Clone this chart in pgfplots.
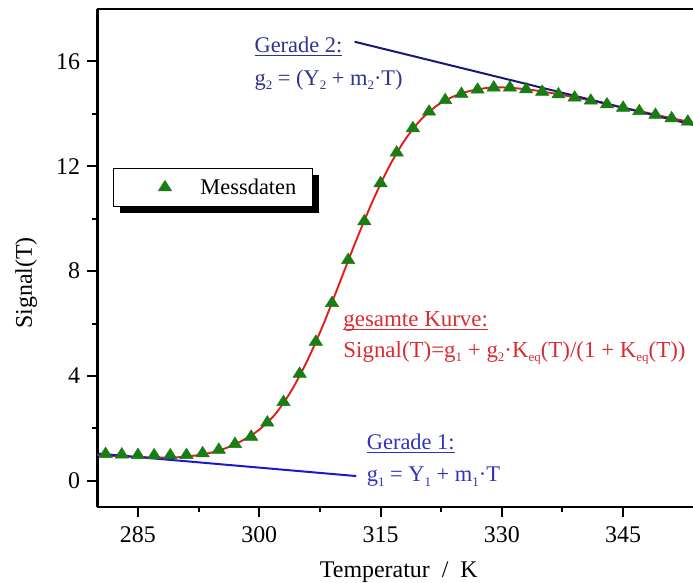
\documentclass[border=0pt]{standalone}
\usepackage{fontspec}
\setmainfont{Liberation Serif}
\usepackage{pgfplots}
\pgfplotsset{compat=1.18}
\usetikzlibrary{shadows}

\definecolor{mygreen}{RGB}{25,125,20}
\definecolor{myred}{RGB}{225,30,30}
\definecolor{txtred}{RGB}{215,45,50}
\definecolor{navyline}{RGB}{25,25,120}
\definecolor{blueline}{RGB}{25,25,210}
\definecolor{navytext}{RGB}{50,50,140}
\definecolor{bluetext}{RGB}{50,50,190}

\newcommand\ul[1]{\setbox0\hbox{#1}\rlap{\rule[-3.5bp]{\wd0}{1.1bp}}\box0}
\newcommand\sub[1]{\raisebox{-0.45ex}{\fontsize{13}{14}\selectfont #1}}

\begin{document}
\begin{tikzpicture}
\begin{axis}[
  name=ax,
  at={(0,0)}, anchor=south west,
  scale only axis, width=595.5bp, height=498bp,
  xmin=280, xmax=353.64, ymin=-1, ymax=18,
  axis x line*=bottom, axis y line*=left,
  axis line style={line width=2.5bp},
  clip=false,
  xtick={285,300,315,330,345}, minor x tick num=1,
  ytick={0,4,8,12,16}, minor y tick num=1,
  tick align=outside,
  major tick length=10bp, minor tick length=5bp,
  tick style={line width=2bp, black},
  /pgf/number format/assume math mode=true,
  tick label style={font=\fontsize{24}{28}\selectfont},
  xticklabel style={yshift=-6bp},
  yticklabel style={xshift=-4bp},
  xlabel={Temperatur\ \ /\ \ K},
  ylabel={Signal(T)},
  label style={font=\fontsize{24}{28}\selectfont},
  xlabel style={at={(rel axis cs:0.506,-0.1406)}, anchor=base},
  ylabel style={at={(rel axis cs:-0.12,0.45)}, anchor=center},
  legend style={at={(rel axis cs:0.026,0.681)}, anchor=north west,
    draw=black, line width=1bp, fill=white,
    drop shadow={shadow xshift=7bp, shadow yshift=-7bp, fill=black, opacity=1},
    font=\fontsize{22.5}{26}\selectfont, inner xsep=14bp, inner ysep=8.5bp},
]
\addplot[only marks, mark=triangle*, mark size=7bp, color=mygreen,
  mark options={fill=mygreen, draw=mygreen, line width=0.5bp, xscale=1.1},
  legend image code/.code={\path (0bp,0bp) (70bp,0bp); \draw plot coordinates {(37bp,0bp)};}]
coordinates {
(281,1.02) (283,1.00) (285,0.98) (287,0.97) (289,0.97) (291,0.98) (293,1.05)
(295,1.18) (297,1.40) (299,1.68) (301,2.22) (303,3.00) (305,4.08) (307,5.30)
(309,6.78) (311,8.42) (313,9.90) (315,11.35) (317,12.52) (319,13.45) (321,14.08)
(323,14.52) (325,14.76) (327,14.92) (329,15.00) (331,15.00) (333,14.93) (335,14.84)
(337,14.74) (339,14.62) (341,14.50) (343,14.36) (345,14.23) (347,14.10) (349,13.96)
(351,13.83) (353,13.70)
};
\addlegendentry{Messdaten\hspace{5bp}}
\addplot[myred, line width=1.9bp, smooth, forget plot] coordinates {
(280,0.98) (282,0.95) (284,0.92) (286,0.90) (288,0.89) (290,0.90) (292,0.96)
(294,1.07) (296,1.26) (298,1.55) (300,1.95) (302,2.55) (304,3.45) (306,4.62)
(308,6.02) (310,7.60) (312,9.18) (314,10.65) (316,11.95) (318,13.00) (320,13.78)
(322,14.32) (324,14.66) (326,14.87) (328,14.98) (330,15.01) (332,14.97) (334,14.90)
(336,14.80) (338,14.69) (340,14.57) (342,14.44) (344,14.30) (346,14.17) (348,14.04)
(350,13.90) (352,13.77) (353.64,13.66)
};
\addplot[blueline, line width=2bp, forget plot] coordinates {(280,1.04) (312,0.18)};
\addplot[navyline, line width=2bp, forget plot] coordinates {(311.8,16.75) (353.64,13.58)};
\draw[line width=2.5bp] (rel axis cs:0,1) -- (rel axis cs:1,1);
\node[anchor=base west, navytext, font=\fontsize{22.5}{27}\selectfont, inner sep=0pt] at (axis cs:299.4,16.33) {\ul{Gerade 2:}};
\node[anchor=base west, navytext, font=\fontsize{22.5}{27}\selectfont, inner sep=0pt] at (axis cs:299.4,15.10) {g\sub{2} = (Y\sub{2} + m\sub{2}·T)};
\node[anchor=base west, txtred, font=\fontsize{23}{27}\selectfont, inner sep=0pt] at (axis cs:310.39,5.88) {\ul{gesamte Kurve:}};
\node[anchor=base west, txtred, font=\fontsize{23}{27}\selectfont, inner sep=0pt] at (axis cs:310.39,4.72) {Signal(T)=g\sub{1} + g\sub{2}·K\sub{eq}(T)/(1 + K\sub{eq}(T))};
\node[anchor=base west, bluetext, font=\fontsize{22.5}{27}\selectfont, inner sep=0pt] at (axis cs:313.29,1.175) {\ul{Gerade 1:}};
\node[anchor=base west, bluetext, font=\fontsize{22.5}{27}\selectfont, inner sep=0pt] at (axis cs:313.29,-0.03) {g\sub{1} = Y\sub{1} + m\sub{1}·T};
\end{axis}
\pgfresetboundingbox
\path[use as bounding box] ([shift={(-97.5bp,-76bp)}]ax.south west) rectangle ([shift={(595.5bp,507bp)}]ax.south west);
\end{tikzpicture}
\end{document}
